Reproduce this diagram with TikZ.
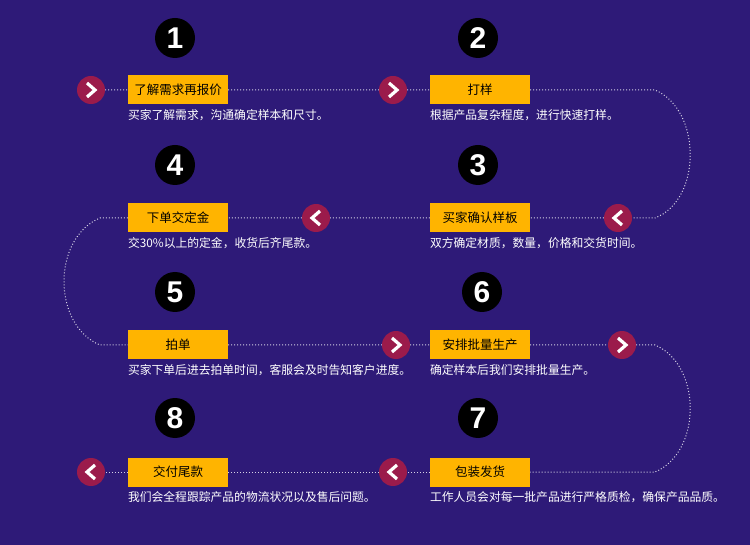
\documentclass[tikz,border=0pt]{standalone}
\usepackage{fontspec}
\setmainfont{Liberation Sans}
\newfontfamily\cjk{Noto Sans CJK SC}
\usetikzlibrary{positioning}

\definecolor{bgpurple}{HTML}{2E1A78}
\definecolor{chevred}{HTML}{9B1B4B}
\definecolor{boxorange}{HTML}{FFB400}

\tikzset{
  num/.style={circle,fill=black,text=white,minimum size=40pt,inner sep=0pt,
              font=\fontsize{30}{30}\selectfont\bfseries},
  stage/.style={rectangle,fill=boxorange,text=black,minimum width=100pt,minimum height=29pt,
               inner sep=0pt,font=\cjk\fontsize{12.5}{13}\selectfont},
  desc/.style={text=white,inner sep=0pt,anchor=north west,font=\cjk\fontsize{11.8}{12}\selectfont},
  chev/.style={circle,fill=chevred,minimum size=28pt,inner sep=0pt},
  chevR/.style={chev,path picture={\draw[white,line width=3.2pt,line cap=butt,line join=miter]
      ([xshift=-4pt,yshift=7pt]path picture bounding box.center) -- ++(8pt,-7pt) -- ++(-8pt,-7pt);}},
  chevL/.style={chev,path picture={\draw[white,line width=3.2pt,line cap=butt,line join=miter]
      ([xshift=4pt,yshift=7pt]path picture bounding box.center) -- ++(-8pt,-7pt) -- ++(8pt,-7pt);}},
  link/.style={white!80!bgpurple,line width=1pt,dotted}
}

\begin{document}
\begin{tikzpicture}[x=1pt,y=1pt]
  \fill[bgpurple] (0,0) rectangle (750,-545);
  \useasboundingbox (0,0) rectangle (750,-545);

  % numbers
  \node[num] (n1) at (175,-38) {1};
  \node[num] (n2) at (478,-38) {2};
  \node[num] (n4) at (175,-165) {4};
  \node[num] (n3) at (478,-165) {3};
  \node[num] (n5) at (175,-292) {5};
  \node[num] (n6) at (482,-292) {6};
  \node[num] (n8) at (175,-418) {8};
  \node[num] (n7) at (478,-418) {7};

  % stages
  \node[stage] (s1) at (178,-90)  {了解需求再报价};
  \node[stage] (s2) at (480,-90)  {打样};
  \node[stage] (s4) at (178,-218) {下单交定金};
  \node[stage] (s3) at (480,-218) {买家确认样板};
  \node[stage] (s5) at (178,-345) {拍单};
  \node[stage] (s6) at (480,-345) {安排批量生产};
  \node[stage] (s8) at (178,-472) {交付尾款};
  \node[stage] (s7) at (480,-472) {包装发货};

  % descriptions
  \node[desc] (d1) at ([yshift=-5pt]s1.south west) {买家了解需求，沟通确定样本和尺寸。};
  \node[desc] (d2) at ([yshift=-5pt]s2.south west) {根据产品复杂程度，进行快速打样。};
  \node[desc] (d4) at ([yshift=-5pt]s4.south west) {交30\%以上的定金，收货后齐尾款。};
  \node[desc] (d3) at ([yshift=-5pt]s3.south west) {双方确定材质，数量，价格和交货时间。};
  \node[desc] (d5) at ([yshift=-5pt]s5.south west) {买家下单后进去拍单时间，客服会及时告知客户进度。};
  \node[desc] (d6) at ([yshift=-5pt]s6.south west) {确定样本后我们安排批量生产。};
  \node[desc] (d8) at ([yshift=-5pt]s8.south west) {我们会全程跟踪产品的物流状况以及售后问题。};
  \node[desc] (d7) at ([yshift=-5pt]s7.south west) {工作人员会对每一批产品进行严格质检，确保产品品质。};

  % chevrons
  \node[chevR] (c1) at (91,-90)   {};
  \node[chevR] (c2) at (393,-90)  {};
  \node[chevL] (c3) at (618,-218) {};
  \node[chevL] (c4) at (316,-218) {};
  \node[chevR] (c5) at (396,-345) {};
  \node[chevR] (c6) at (622,-345) {};
  \node[chevL] (c7) at (393,-472) {};
  \node[chevL] (c8) at (91,-472)  {};

  \coordinate (r1) at (655,-90);
  \coordinate (r2) at (655,-218);
  \coordinate (l1) at (100,-218);
  \coordinate (l2) at (100,-345);
  \coordinate (r3) at (655,-345);
  \coordinate (r4) at (655,-472);

  % links
  \draw[link] (c1) -- (s1) (s1) -- (c2) (c2) -- (s2) (s2) -- (r1)
    .. controls (702,-110) and (702,-200) .. (r2) -- (c3);
  \draw[link] (c3) -- (s3) (s3) -- (c4) (c4) -- (s4) (s4) -- (l1)
    .. controls (52,-238) and (52,-325) .. (l2) -- (s5);
  \draw[link] (s5) -- (c5) (c5) -- (s6) (s6) -- (c6) (c6) -- (r3)
    .. controls (702,-365) and (702,-452) .. (r4) -- (s7);
  \draw[link] (s7) -- (c7) (c7) -- (s8) (s8) -- (c8);
\end{tikzpicture}
\end{document}
